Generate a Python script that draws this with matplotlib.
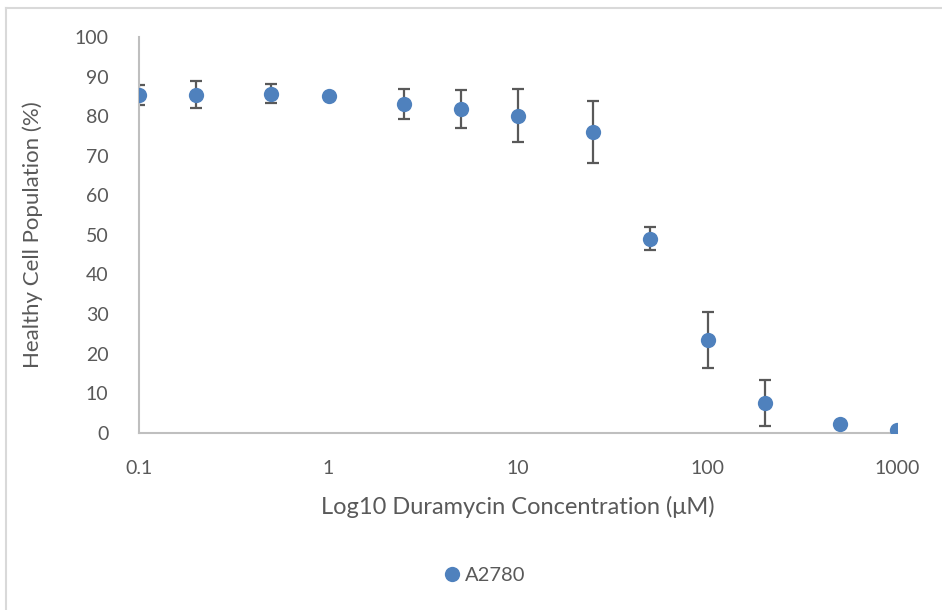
import numpy as np
import matplotlib
matplotlib.use('Agg')
import matplotlib.pyplot as plt
from matplotlib.lines import Line2D

plt.rcParams['font.family'] = ['Lato', 'DejaVu Sans']

# dose response, A2780 cells
conc = [0.1, 0.2, 0.5, 1, 2.5, 5, 10, 25, 50, 100, 200, 500, 1000]
healthy = [85.4, 85.4, 85.6, 85.2, 83.1, 81.9, 80.1, 76.0, 49.0, 23.4, 7.4, 2.1, 0.6]
err = [2.5, 3.4, 2.4, 0.0, 3.8, 4.8, 6.7, 7.8, 2.9, 7.0, 5.8, 0.0, 0.0]
xticks = [0.1, 1, 10, 100, 1000]
xtick_labels = ['0.1', '1', '10', '100', '1000']
yticks = list(range(0, 101, 10))

blue = '#4f81bd'
grey_txt = '#595959'
axis_col = '#bfbfbf'

fig = plt.figure(figsize=(9.42, 6.10), dpi=100)
ax = fig.add_axes([139/942, 1-432.7/610, (897-139)/942, (432.7-37)/610])

ax.errorbar(conc, healthy, yerr=err, fmt='none', ecolor=grey_txt, elinewidth=1.6,
            capsize=4.5, capthick=1.6, zorder=2)
ax.plot(conc, healthy, 'o', color=blue, markersize=11, markeredgewidth=0, zorder=3)

ax.set_xscale('log')
ax.set_xlim(0.1, 1000)
ax.set_ylim(0, 100)
ax.set_xticks(xticks)
ax.set_xticklabels(xtick_labels)
ax.xaxis.set_minor_locator(matplotlib.ticker.NullLocator())
ax.set_yticks(yticks)
ax.tick_params(length=0, labelsize=14, labelcolor=grey_txt)
ax.tick_params(axis='y', pad=22)
ax.tick_params(axis='x', pad=20)

for s in ['top', 'right']:
    ax.spines[s].set_visible(False)
for s in ['left', 'bottom']:
    ax.spines[s].set_color(axis_col)
    ax.spines[s].set_linewidth(1.5)

ax.set_xlabel('Log10 Duramycin Concentration (μM)', fontsize=17, color=grey_txt, labelpad=13)
ax.set_ylabel('Healthy Cell Population (%)', fontsize=16, color=grey_txt, labelpad=-2)
ax.yaxis.set_label_coords(-96/758, 0.5)

handle = Line2D([], [], marker='o', linestyle='none', color=blue, markersize=11, markeredgewidth=0)
fig.legend([handle], ['A2780'], loc='center', bbox_to_anchor=(484/942, 1-575/610), frameon=False,
           fontsize=14.5, labelcolor=grey_txt, handletextpad=0.15, handlelength=1.0)

# chart frame
fig.add_artist(Line2D([6/942, 1], [1-8/610, 1-8/610], color='#d9d9d9', linewidth=1.5))
fig.add_artist(Line2D([6/942, 6/942], [0, 1-8/610], color='#d9d9d9', linewidth=1.5))

fig.savefig('out.png', dpi=100)
